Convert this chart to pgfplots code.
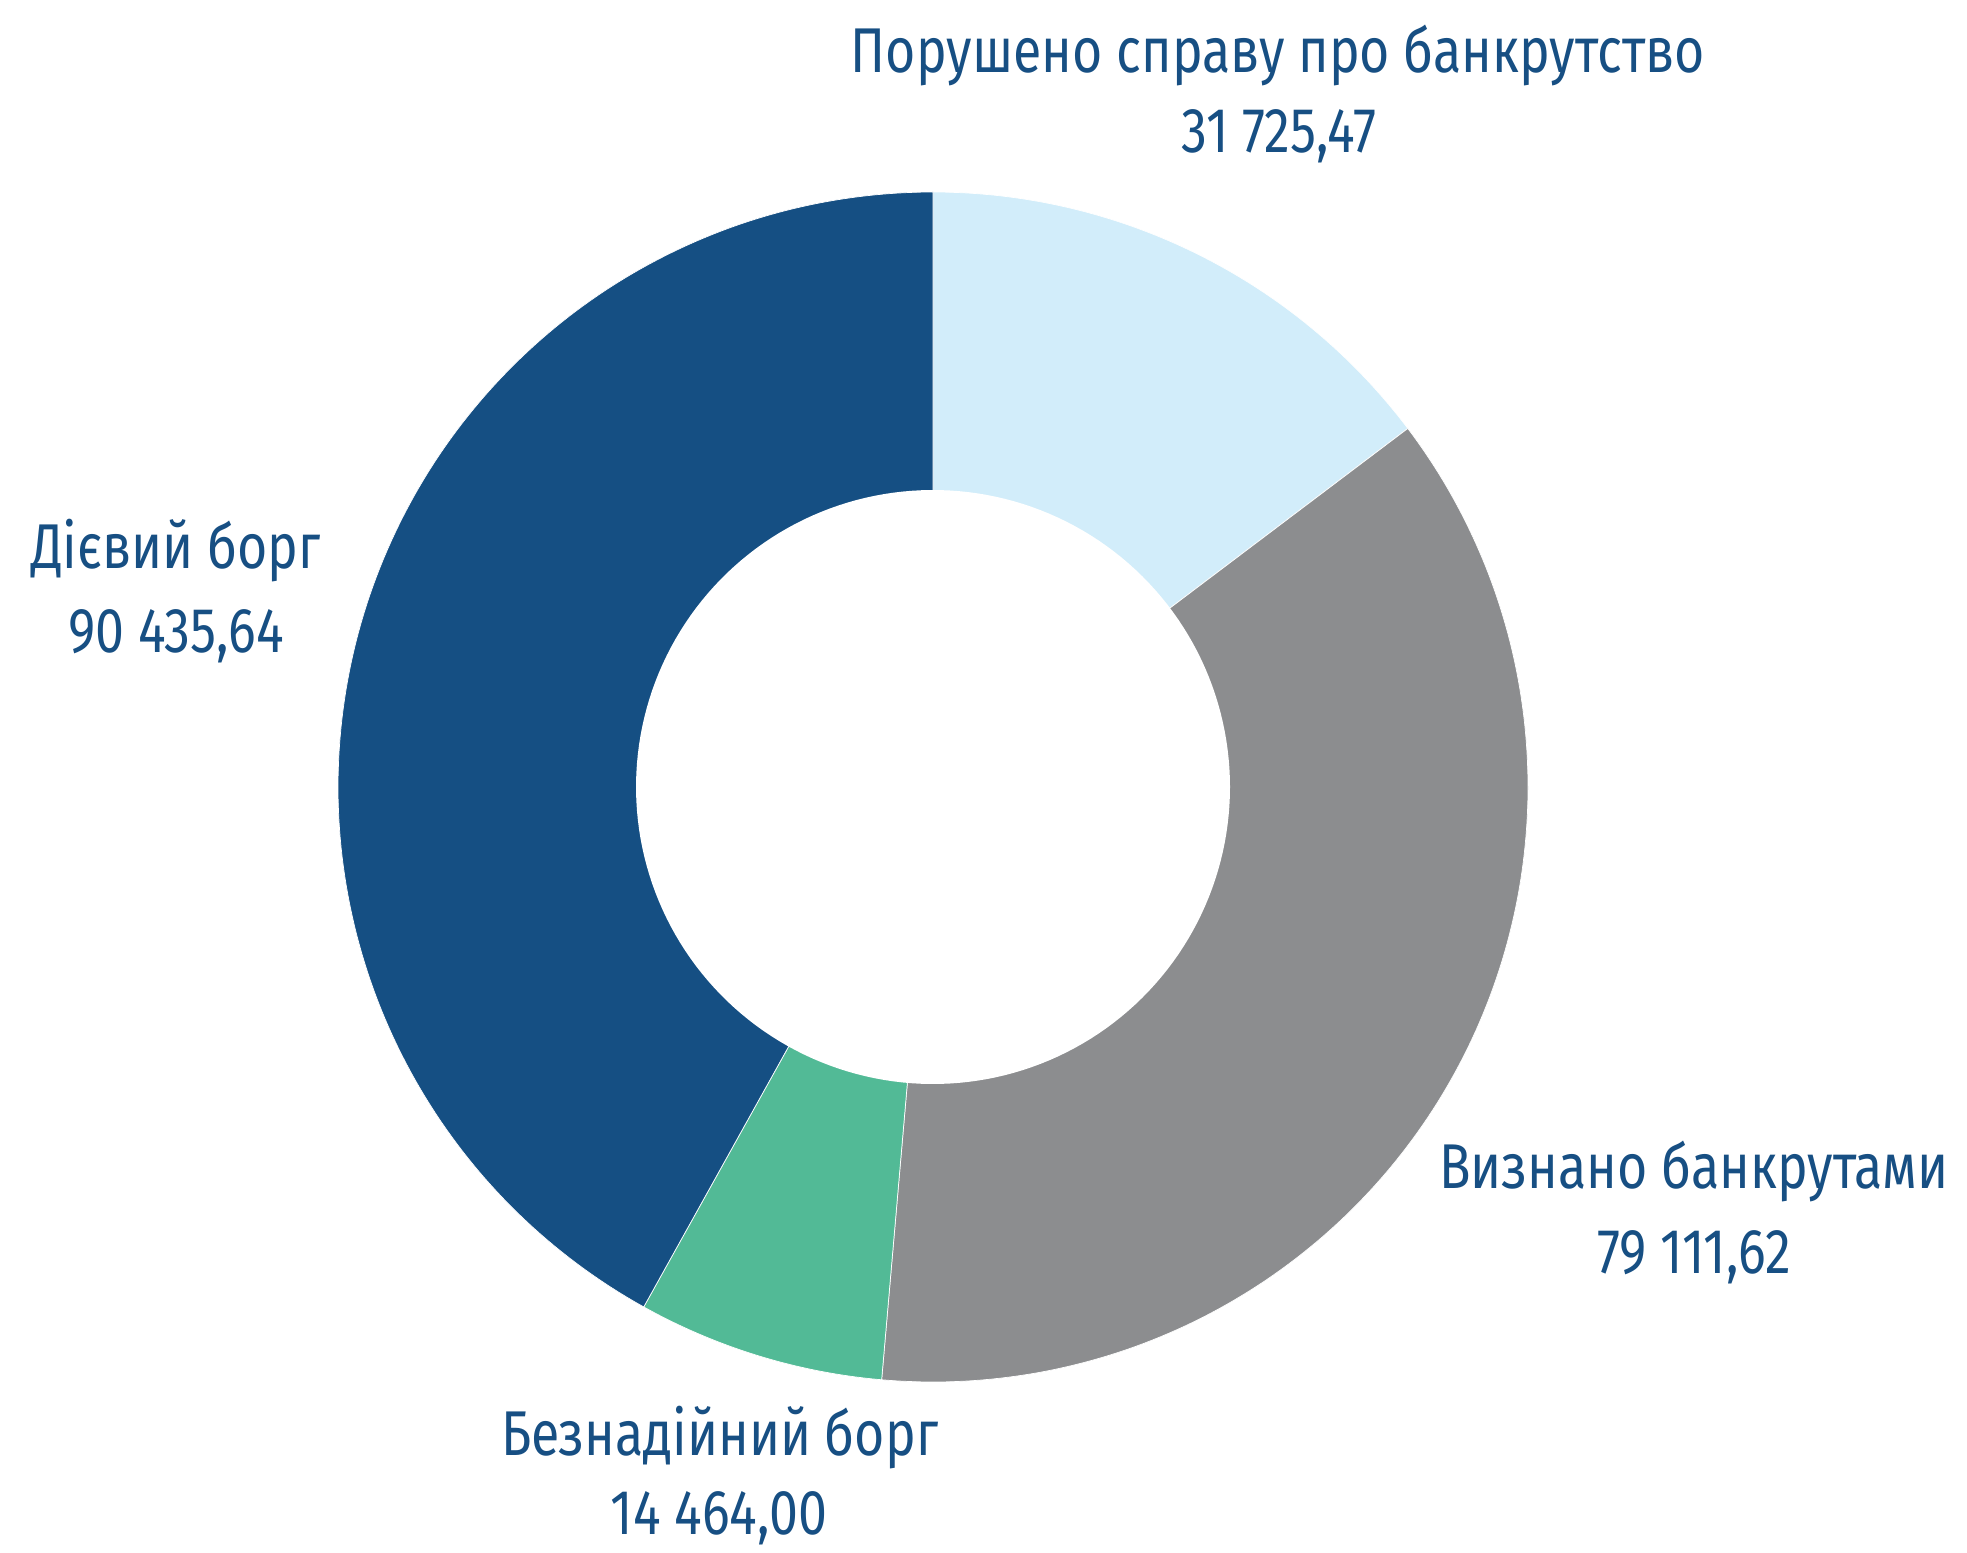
\documentclass[border=0pt]{standalone}
\usepackage{fontspec}
\setmainfont{Fira Sans}[FakeStretch=0.82]
\usepackage{pgfplots}
\pgfplotsset{compat=1.18}
\definecolor{cA}{HTML}{D2EDFA}
\definecolor{cB}{HTML}{8C8D8F}
\definecolor{cC}{HTML}{52BA96}
\definecolor{cD}{HTML}{154F83}
\definecolor{txt}{HTML}{174F83}
% values
\def\vA{31725.47}
\def\vB{79111.62}
\def\vC{14464.00}
\def\vD{90435.64}
\edef\tot{\fpeval{\vA+\vB+\vC+\vD}}
\edef\aA{\fpeval{90-360*\vA/\tot}}
\edef\aB{\fpeval{\aA-360*\vB/\tot}}
\edef\aC{\fpeval{\aB-360*\vC/\tot}}
\edef\aD{\fpeval{\aC-360*\vD/\tot}}
\def\cx{933}
\def\cy{765}
\def\R{595}
\def\r{297}
\begin{document}
\begin{tikzpicture}
\useasboundingbox (0,0) rectangle (196.7mm,155.2mm);
\begin{axis}[
  at={(0,0)}, anchor=south west,
  scale only axis, width=196.7mm, height=155.2mm,
  xmin=0, xmax=1967, ymin=0, ymax=1552,
  hide axis, clip=false,
]
\addplot[fill=cA, draw=white, line width=0.2pt, domain=\aA:90, samples=90] ({\cx+\R*cos(x)},{\cy+\R*sin(x)}) -- (axis cs:\cx,\cy) -- cycle;
\addplot[fill=cB, draw=white, line width=0.2pt, domain=\aB:\aA, samples=150] ({\cx+\R*cos(x)},{\cy+\R*sin(x)}) -- (axis cs:\cx,\cy) -- cycle;
\addplot[fill=cC, draw=white, line width=0.2pt, domain=\aC:\aB, samples=50] ({\cx+\R*cos(x)},{\cy+\R*sin(x)}) -- (axis cs:\cx,\cy) -- cycle;
\addplot[fill=cD, draw=white, line width=0.2pt, domain=\aD:\aC, samples=160] ({\cx+\R*cos(x)},{\cy+\R*sin(x)}) -- (axis cs:\cx,\cy) -- cycle;
\addplot[fill=white, draw=none, domain=0:360, samples=200] ({\cx+\r*cos(x)},{\cy+\r*sin(x)}) -- cycle;
\begin{scope}[every node/.style={anchor=base, text=txt, font=\fontsize{18}{20}\selectfont, inner sep=0pt}]
\node at (axis cs:1278,{1552-73}) {Порушено справу про банкрутство};
\node at (axis cs:1279,{1552-153}) {31 725,47};
\node at (axis cs:176,{1552-568}) {Дієвий борг};
\node at (axis cs:176,{1552-652}) {90 435,64};
\node at (axis cs:1694,{1552-1188}) {Визнано банкрутами};
\node at (axis cs:1694,{1552-1273}) {79 111,62};
\node at (axis cs:720,{1552-1455}) {Безнадійний борг};
\node at (axis cs:719,{1552-1534}) {14 464,00};
\end{scope}
\end{axis}
\end{tikzpicture}
\end{document}
